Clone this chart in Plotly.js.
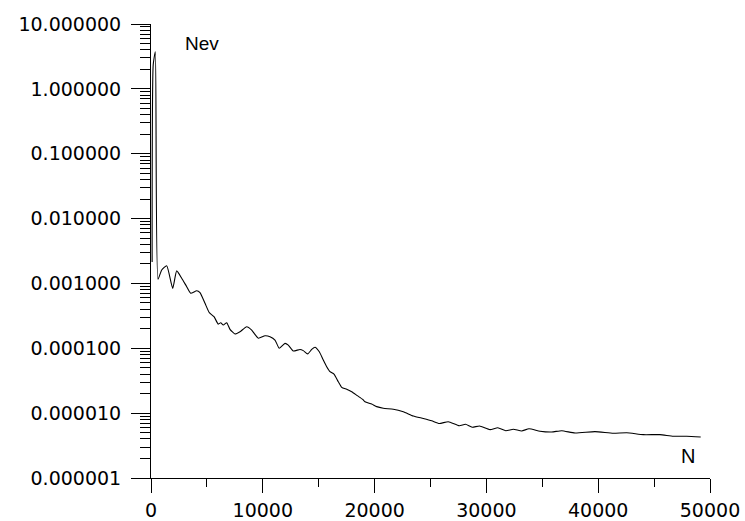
<!DOCTYPE html>
<html>
<head>
<meta charset="utf-8">
<script src="https://cdn.plot.ly/plotly-3.0.1.min.js"></script>
<style>html,body{margin:0;padding:0;background:#fff;}</style>
</head>
<body>
<div id="chart" style="width:745px;height:521px;"></div>
<script>
// Series: N (iteration) vs Nev (log scale)
const nValues = [100, 197, 385, 626, 957, 1404, 1941, 2299, 2746, 3193, 3551, 4088, 4383, 4830, 5215, 5635, 6020, 6234, 6467, 6771, 7066, 7513, 7961, 8560, 9007, 9598, 10197, 10644, 11091, 11476, 11986, 12281, 12728, 13327, 13622, 14016, 14374, 14669, 15054, 15411, 15716, 16011, 16368, 16753, 17057, 17504, 17952, 18452, 18936, 19141, 19740, 20188, 20778, 21673, 22567, 23462, 24356, 25107, 25787, 26592, 27576, 28130, 28730, 29383, 30322, 31020, 31735, 32406, 33157, 33810, 34794, 35841, 36735, 37925, 39714, 41350, 42549, 44034, 45527, 46717, 47916, 49168];
const nevValues = [2.14e-3, 2.33, 3.74, 1.16e-3, 1.61e-3, 1.87e-3, 8.4e-4, 1.56e-3, 1.20e-3, 8.9e-4, 7.05e-4, 7.7e-4, 7.2e-4, 4.93e-4, 3.54e-4, 3.07e-4, 2.36e-4, 2.48e-4, 2.29e-4, 2.48e-4, 1.96e-4, 1.66e-4, 1.80e-4, 2.15e-4, 1.91e-4, 1.43e-4, 1.56e-4, 1.51e-4, 1.34e-4, 1.00e-4, 1.19e-4, 1.12e-4, 9.08e-5, 9.6e-5, 9.2e-5, 8.2e-5, 9.6e-5, 1.04e-4, 8.85e-5, 6.59e-5, 5.20e-5, 4.36e-5, 4.01e-5, 3.05e-5, 2.50e-5, 2.33e-5, 2.14e-5, 1.86e-5, 1.63e-5, 1.50e-5, 1.38e-5, 1.26e-5, 1.19e-5, 1.15e-5, 1.05e-5, 9.04e-6, 8.26e-6, 7.62e-6, 6.92e-6, 7.38e-6, 6.38e-6, 6.73e-6, 6.06e-6, 6.34e-6, 5.57e-6, 5.94e-6, 5.36e-6, 5.64e-6, 5.31e-6, 5.75e-6, 5.27e-6, 5.12e-6, 5.36e-6, 4.94e-6, 5.18e-6, 4.89e-6, 4.99e-6, 4.66e-6, 4.66e-6, 4.40e-6, 4.40e-6, 4.29e-6];

const yTickVals = [1e-6, 1e-5, 1e-4, 1e-3, 1e-2, 1e-1, 1, 10];
const yTickText = ["0.000001", "0.000010", "0.000100", "0.001000", "0.010000", "0.100000", "1.000000", "10.000000"];
const xTickVals = [0, 10000, 20000, 30000, 40000, 50000];
const xTickText = ["0", "10000", "20000", "30000", "40000", "50000"];
const yAxisLabel = "Nev";
const xAxisLabel = "N";

const tickFont = {family: "DejaVu Sans", size: 19, color: "#000"};

const trace = {
  x: nValues,
  y: nevValues,
  type: "scatter",
  mode: "lines",
  line: {color: "#000", width: 1.1, shape: "spline", smoothing: 0.5},
  hoverinfo: "skip"
};

const layout = {
  width: 745,
  height: 521,
  margin: {l: 151, r: 35, t: 24, b: 43, pad: 0},
  paper_bgcolor: "#fff",
  plot_bgcolor: "#fff",
  showlegend: false,
  xaxis: {
    range: [0, 50000],
    tickmode: "array",
    tickvals: xTickVals,
    ticktext: xTickText,
    ticks: "outside",
    ticklen: 14,
    tickwidth: 1,
    tickcolor: "#000",
    ticklabelstandoff: 1,
    showline: true,
    linecolor: "#000",
    linewidth: 1,
    showgrid: false,
    zeroline: false,
    tickfont: tickFont,
    minor: {dtick: 5000, tick0: 0, ticks: "outside", ticklen: 8, tickwidth: 1, tickcolor: "#000", showgrid: false}
  },
  yaxis: {
    type: "log",
    range: [-6, 1],
    tickmode: "array",
    tickvals: yTickVals,
    ticktext: yTickText,
    ticks: "outside",
    ticklen: 19,
    tickwidth: 1,
    tickcolor: "#000",
    ticklabelstandoff: 6,
    showline: true,
    linecolor: "#000",
    linewidth: 1,
    showgrid: false,
    zeroline: false,
    tickfont: tickFont,
    minor: {dtick: "D1", ticks: "outside", ticklen: 10, tickwidth: 1, tickcolor: "#000", showgrid: false}
  },
  annotations: [
    {text: yAxisLabel, xref: "paper", yref: "paper", x: 0.0912, y: 0.956, xanchor: "center", yanchor: "middle", showarrow: false, font: {family: "Liberation Sans", size: 19, color: "#000"}},
    {text: xAxisLabel, xref: "paper", yref: "paper", x: 0.9606, y: 0.0485, xanchor: "center", yanchor: "middle", showarrow: false, font: {family: "Liberation Sans", size: 20, color: "#000"}}
  ]
};

Plotly.newPlot("chart", [trace], layout, {staticPlot: true, displayModeBar: false});
</script>
</body>
</html>
